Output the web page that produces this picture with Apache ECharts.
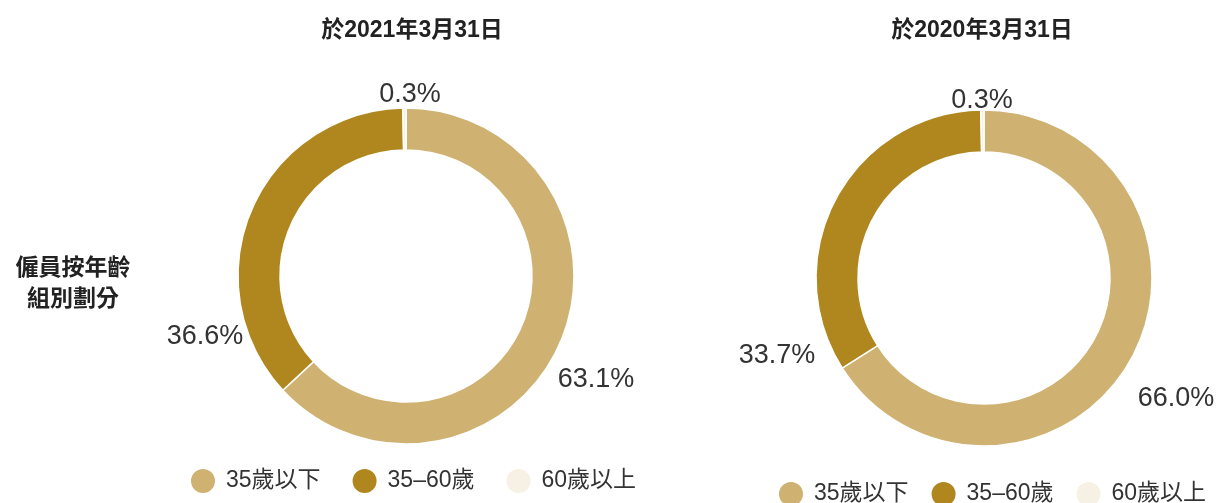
<!DOCTYPE html>
<html>
<head>
<meta charset="utf-8">
<script src="https://cdn.jsdelivr.net/npm/echarts@6/dist/echarts.min.js"></script>
<style>
  html, body { margin: 0; padding: 0; background: #fff; }
  #main { width: 1225px; height: 503px; }
</style>
</head>
<body>
<div id="main"></div>
<script>
// 數據
const categories = ['35歲以下', '35–60歲', '60歲以上'];
const values2021 = [63.1, 36.6, 0.3];
const values2020 = [66.0, 33.7, 0.3];
const titles = ['於2021年3月31日', '於2020年3月31日'];
const sideLabel = '僱員按年齡\n組別劃分';

const colors = ['#CFB272', '#B0861F', '#F6F1E4'];
const font = '"Liberation Sans", "Noto Sans CJK TC", sans-serif';

// 百分比標籤位置（像素）
const labelPos = [
  [[596, 380], [205, 337], [410, 95]],
  [[1176, 399], [777, 356], [982, 101]]
];

let chart = echarts.init(document.getElementById('main'));

function makePie(idx, values, center) {
  return {
    type: 'pie',
    center: center,
    radius: [126, 168],
    startAngle: 90,
    clockwise: true,
    avoidLabelOverlap: false,
    silent: true,
    itemStyle: { borderColor: '#fff', borderWidth: 1.5 },
    label: {
      show: true,
      position: 'outside',
      formatter: (p) => p.value.toFixed(1) + '%',
      fontFamily: font,
      fontSize: 27,
      color: '#333'
    },
    labelLine: { show: false },
    labelLayout: (p) => ({
      x: labelPos[idx][p.dataIndex][0],
      y: labelPos[idx][p.dataIndex][1],
      align: 'center',
      verticalAlign: 'middle'
    }),
    data: categories.map((c, i) => ({
      name: c,
      value: values[i],
      itemStyle: { color: colors[i] }
    }))
  };
}

let legendBase = {
  icon: 'circle',
  itemWidth: 26,
  itemHeight: 26,
  itemGap: 30,
  selectedMode: false,
  data: categories,
  textStyle: { fontFamily: font, fontSize: 23, color: '#333', padding: [0, 0, 0, 5] }
};

let titleStyle = { fontFamily: font, fontSize: 23, fontWeight: 'bold', color: '#222' };

let option = {
  animation: false,
  backgroundColor: '#fff',
  title: [
    { text: titles[0], left: 407, top: 14, textAlign: 'center', textStyle: titleStyle },
    { text: titles[1], left: 977, top: 14, textAlign: 'center', textStyle: titleStyle },
    {
      text: sideLabel, left: 68, top: 248, textAlign: 'center',
      textStyle: Object.assign({}, titleStyle, { lineHeight: 31, align: 'center' })
    }
  ],
  legend: [
    Object.assign({}, legendBase, { seriesIndex: 0, left: 184, top: 462 }),
    Object.assign({}, legendBase, { seriesIndex: 1, left: 772, top: 475, itemGap: 21 })
  ],
  series: [
    makePie(0, values2021, [406, 276]),
    makePie(1, values2020, [984, 278])
  ]
};

chart.setOption(option);
</script>
</body>
</html>
